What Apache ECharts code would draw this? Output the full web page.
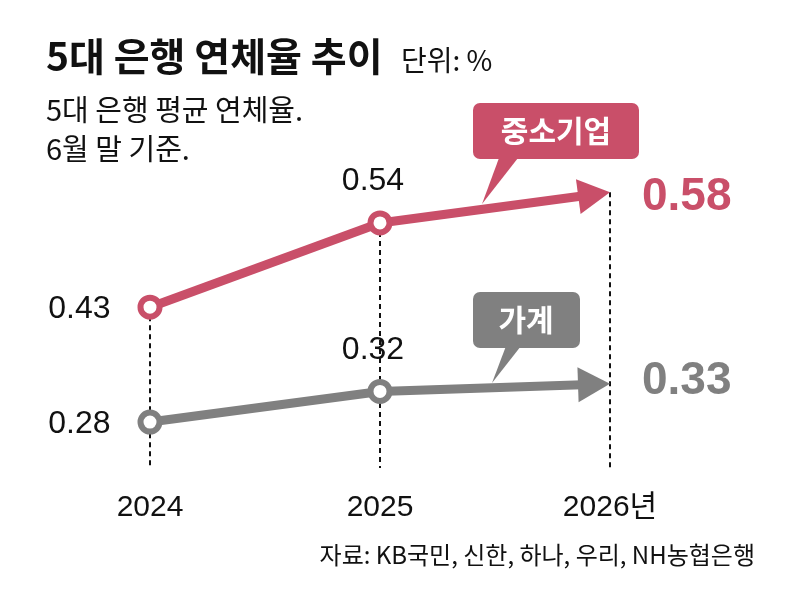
<!DOCTYPE html>
<html>
<head>
<meta charset="utf-8">
<script src="https://cdn.jsdelivr.net/npm/echarts@6/dist/echarts.min.js"></script>
<style>
  html, body { margin: 0; background: #fff; }
  #chart { width: 788px; height: 591px; }
</style>
</head>
<body>
<div id="chart"></div>
<script>
// data
const years = ['2024', '2025', '2026년']
const smeRates = [0.43, 0.54, 0.58]
const householdRates = [0.28, 0.32, 0.33]
const smeName = '중소기업'
const householdName = '가계'

const RED = '#c94f69'
const GRAY = '#808080'
const NUM_FONT = "'Liberation Sans', 'Noto Sans CJK KR', sans-serif"
const KR_FONT = "'Noto Sans CJK KR', sans-serif"
const Y_MIN = 0.22
const last = years.length - 1

// line part (2024 -> 2025) with hollow markers; the last leg is drawn as an arrow
const lineData = (values) => values.map((v, i) => {
  if (i === last) return '-'
  return {
    value: v,
    label: i === 0
      ? { position: 'left', distance: 27, offset: [0, 2] }
      : { position: 'top', distance: 13, offset: [-7, 0] }
  }
})

const arrowItem = (labelDy) => (params, api) => {
  const a = api.coord([api.value(0), api.value(1)])
  const b = api.coord([api.value(2), api.value(3)])
  const dx = b[0] - a[0]
  const dy = b[1] - a[1]
  const len = Math.hypot(dx, dy)
  const ux = dx / len, uy = dy / len
  const nx = -uy, ny = ux
  const headLen = 32, headHalf = 17.5
  const bx = b[0] - ux * headLen
  const by = b[1] - uy * headLen
  const color = api.visual('color')
  return {
    type: 'group',
    children: [
      {
        type: 'line',
        shape: { x1: a[0], y1: a[1], x2: bx + ux * 4, y2: by + uy * 4 },
        style: { stroke: color, lineWidth: 9 }
      },
      {
        type: 'polygon',
        shape: { points: [[b[0], b[1]], [bx + nx * headHalf, by + ny * headHalf], [bx - nx * headHalf, by - ny * headHalf]] },
        style: { fill: color }
      },
      {
        type: 'text',
        x: b[0] + 32,
        y: b[1] + labelDy,
        style: {
          text: String(api.value(3)),
          fill: color,
          font: "bold 46px 'Liberation Sans', sans-serif",
          verticalAlign: 'middle',
          align: 'left'
        }
      }
    ]
  }
}

const dashItem = (params, api) => {
  const top = api.coord([api.value(0), api.value(1)])
  const bottom = api.coord([api.value(0), Y_MIN])
  return {
    type: 'line',
    shape: { x1: top[0], y1: top[1], x2: bottom[0], y2: bottom[1] },
    style: { stroke: '#111', lineWidth: 2, lineDash: [5, 4] }
  }
}

const lineSeries = (name, values, color) => ({
  name,
  type: 'line',
  z: 5,
  data: lineData(values),
  symbol: 'circle',
  symbolSize: 19,
  lineStyle: { color, width: 9 },
  itemStyle: { color: '#fff', borderColor: color, borderWidth: 6 },
  label: {
    show: true,
    color: '#111',
    fontSize: 32,
    fontFamily: NUM_FONT,
    formatter: (p) => p.value.toFixed(2)
  },
  emphasis: { disabled: true }
})

const arrowSeries = (name, values, color, labelDy) => ({
  name: name + '-arrow',
  type: 'custom',
  z: 4,
  encode: { x: [0, 2], y: [1, 3] },
  data: [[last - 1, values[last - 1], last, values[last]]],
  itemStyle: { color },
  renderItem: arrowItem(labelDy),
  silent: true
})

const option = {
  backgroundColor: '#fff',
  animation: false,
  title: [
    {
      text: '5대 은행 연체율 추이',
      left: 46, top: 37, padding: 0,
      textStyle: { fontSize: 39, fontWeight: 'bold', color: '#111', fontFamily: KR_FONT }
    },
    {
      text: '단위: %',
      left: 401, top: 46, padding: 0,
      textStyle: { fontSize: 28, fontWeight: 'normal', color: '#111', fontFamily: KR_FONT }
    },
    {
      text: '5대 은행 평균 연체율.\n6월 말 기준.',
      left: 46, top: 90, padding: 0,
      textStyle: { fontSize: 29, lineHeight: 39, fontWeight: 'normal', color: '#111', fontFamily: KR_FONT }
    },
    {
      text: '자료: KB국민, 신한, 하나, 우리, NH농협은행',
      right: 33, top: 543, padding: 0,
      textStyle: { fontSize: 24, fontWeight: 'normal', color: '#111', fontFamily: KR_FONT }
    }
  ],
  grid: { left: 150, right: 178, top: 177, bottom: 123 },
  xAxis: {
    type: 'category',
    data: years,
    boundaryGap: false,
    axisLine: { show: false },
    axisTick: { show: false },
    splitLine: { show: false },
    axisLabel: { color: '#111', fontSize: 30, fontFamily: NUM_FONT, margin: 25 }
  },
  yAxis: {
    type: 'value',
    min: Y_MIN,
    max: 0.6,
    show: false
  },
  graphic: [
    {
      type: 'group',
      children: [
        { type: 'polygon', shape: { points: [[499, 158], [518, 158], [482, 204]] }, style: { fill: RED } },
        { type: 'rect', shape: { x: 473, y: 103, width: 166, height: 56, r: 7 }, style: { fill: RED } },
        { type: 'text', x: 556, y: 131, style: { text: smeName, fill: '#fff', font: "bold 30px 'Noto Sans CJK KR', sans-serif", align: 'center', verticalAlign: 'middle' } }
      ]
    },
    {
      type: 'group',
      children: [
        { type: 'polygon', shape: { points: [[506, 346], [521, 346], [492, 383]] }, style: { fill: GRAY } },
        { type: 'rect', shape: { x: 473, y: 292, width: 107, height: 56, r: 7 }, style: { fill: GRAY } },
        { type: 'text', x: 526, y: 320, style: { text: householdName, fill: '#fff', font: "bold 30px 'Noto Sans CJK KR', sans-serif", align: 'center', verticalAlign: 'middle' } }
      ]
    }
  ],
  series: [
    {
      name: 'guides',
      type: 'custom',
      z: 1,
      encode: { x: 0, y: 1 },
      data: years.map((y, i) => [i, Math.max(smeRates[i], householdRates[i])]),
      renderItem: dashItem,
      silent: true
    },
    arrowSeries(smeName, smeRates, RED, 5),
    arrowSeries(householdName, householdRates, GRAY, -2),
    lineSeries(smeName, smeRates, RED),
    lineSeries(householdName, householdRates, GRAY)
  ]
}

const chart = echarts.init(document.getElementById('chart'))
chart.setOption(option)
</script>
</body>
</html>
